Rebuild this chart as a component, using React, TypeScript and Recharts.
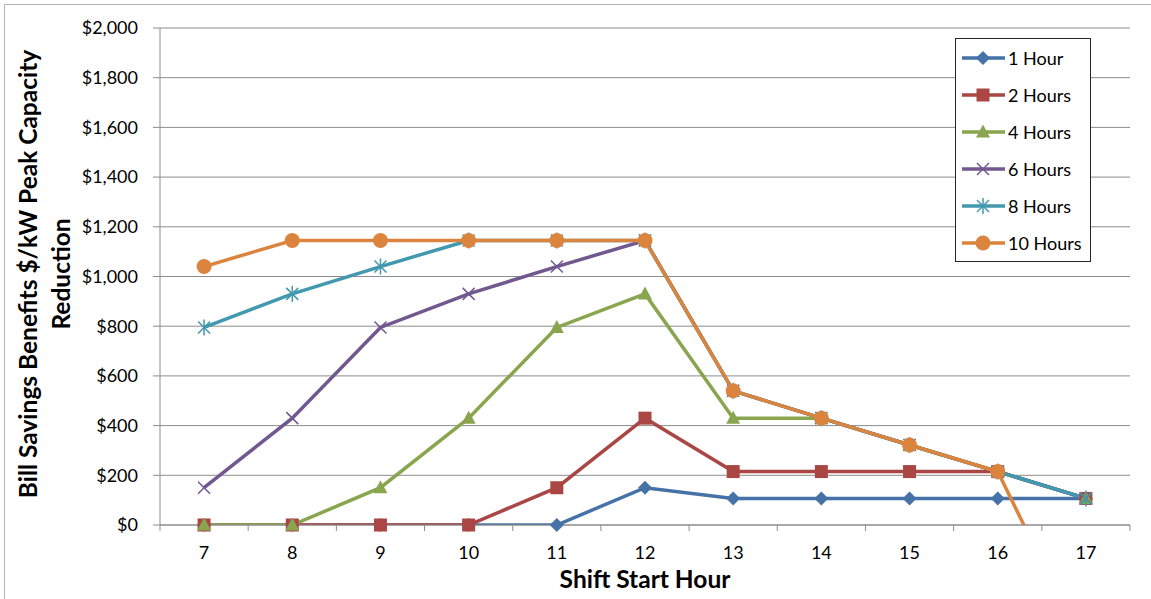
import React from 'react';
import { LineChart, Line, XAxis, YAxis, CartesianGrid, Legend } from 'recharts';

const hours = [7, 8, 9, 10, 11, 12, 13, 14, 15, 16, 17];
const oneHour = [0, 0, 0, 0, 0, 150, 107, 107, 107, 107, 107];
const twoHours = [0, 0, 0, 0, 150, 430, 215, 215, 215, 215, 107];
const fourHours = [0, 0, 150, 430, 795, 930, 430, 430, 322, 215, 107];
const sixHours = [150, 430, 795, 930, 1040, 1145, 540, 430, 322, 215, 107];
const eightHours = [795, 930, 1040, 1145, 1145, 1145, 540, 430, 322, 215, 107];
const tenHours = [1040, 1145, 1145, 1145, 1145, 1145, 540, 430, 322, 215, -510];
const yTicks = [0, 200, 400, 600, 800, 1000, 1200, 1400, 1600, 1800, 2000];

// x ticks: boundaries (half hours) carry the tick marks, whole hours carry the labels
const xTicks = [hours[0] - 0.5, ...hours.flatMap((h) => [h, h + 0.5])];

const series = [
  { key: 'h1', name: '1 Hour', values: oneHour, color: '#4572A7', marker: 'diamond' },
  { key: 'h2', name: '2 Hours', values: twoHours, color: '#AA4643', marker: 'square' },
  { key: 'h4', name: '4 Hours', values: fourHours, color: '#89A54E', marker: 'triangle' },
  { key: 'h6', name: '6 Hours', values: sixHours, color: '#71588F', marker: 'x' },
  { key: 'h8', name: '8 Hours', values: eightHours, color: '#4198AF', marker: 'star' },
  { key: 'h10', name: '10 Hours', values: tenHours, color: '#DB843D', marker: 'circle' },
];

const data = hours.map((hour, i) => {
  const row: Record<string, number> = { hour };
  series.forEach((s) => (row[s.key] = s.values[i]));
  return row;
});

const FONT = 'Lato, "Open Sans", sans-serif';
const GRID = '#8c8c8c';

function Marker({ cx, cy, type, color }: { cx: number; cy: number; type: string; color: string }) {
  switch (type) {
    case 'diamond':
      return <polygon points={`${cx},${cy - 7} ${cx + 7},${cy} ${cx},${cy + 7} ${cx - 7},${cy}`} fill={color} />;
    case 'square':
      return <rect x={cx - 6.5} y={cy - 6.5} width={13} height={13} fill={color} />;
    case 'triangle':
      return <polygon points={`${cx},${cy - 7.5} ${cx + 7},${cy + 5.5} ${cx - 7},${cy + 5.5}`} fill={color} />;
    case 'x':
      return (
        <g stroke={color} strokeWidth={1.5}>
          <line x1={cx - 6} y1={cy - 6} x2={cx + 6} y2={cy + 6} />
          <line x1={cx - 6} y1={cy + 6} x2={cx + 6} y2={cy - 6} />
        </g>
      );
    case 'star':
      return (
        <g stroke={color} strokeWidth={1.5}>
          <line x1={cx - 6} y1={cy - 6} x2={cx + 6} y2={cy + 6} />
          <line x1={cx - 6} y1={cy + 6} x2={cx + 6} y2={cy - 6} />
          <line x1={cx} y1={cy - 8} x2={cx} y2={cy + 8} />
        </g>
      );
    default:
      return <circle cx={cx} cy={cy} r={7.5} fill={color} />;
  }
}

const XTick = (props: any) => {
  const { x, y, payload } = props;
  if (payload.value % 1 !== 0) {
    return <line x1={x} y1={y} x2={x} y2={y + 6} stroke={GRID} strokeWidth={1} />;
  }
  return (
    <text x={x} y={y + 34} textAnchor="middle" fontSize={18} fontFamily={FONT} fill="#000">
      {payload.value}
    </text>
  );
};

const LegendBox = () => (
  <div
    style={{
      width: 134,
      height: 222,
      border: '1px solid #262626',
      background: '#fff',
      boxSizing: 'content-box',
      fontFamily: FONT,
      fontSize: 18,
    }}
  >
    {series.map((s) => (
      <div key={s.key} style={{ display: 'flex', alignItems: 'center', height: 37 }}>
        <svg width={52} height={20} style={{ flexShrink: 0 }}>
          <line x1={6} y1={10} x2={49} y2={10} stroke={s.color} strokeWidth={3.5} />
          <Marker cx={27} cy={10} type={s.marker} color={s.color} />
        </svg>
        <span style={{ color: '#000', lineHeight: '20px' }}>{s.name}</span>
      </div>
    ))}
  </div>
);

export default function App() {
  return (
    <div style={{ position: 'relative', width: 1151, height: 599, background: '#fff', overflow: 'hidden' }}>
      <style>{'body{margin:0}'}</style>
      <div
        style={{
          position: 'absolute',
          left: 4,
          top: 4,
          right: 0,
          bottom: 0,
          borderLeft: '1px solid #b4b4b4',
          borderTop: '1px solid #b4b4b4',
        }}
      />
      <LineChart
        width={1151}
        height={599}
        data={data}
        margin={{ top: 28, right: 21, bottom: 14, left: 60 }}
        style={{ position: 'absolute', left: 0, top: 0 }}
      >
        <CartesianGrid yAxisId="v" horizontal vertical={false} stroke={GRID} strokeWidth={1} />
        <XAxis
          dataKey="hour"
          type="number"
          domain={[xTicks[0], xTicks[xTicks.length - 1]]}
          ticks={xTicks}
          interval={0}
          tick={<XTick />}
          tickLine={false}
          tickSize={0}
          tickMargin={0}
          height={60}
          axisLine={{ stroke: GRID, strokeWidth: 1 }}
          label={{
            content: () => (
              <text x={645} y={588} textAnchor="middle" fontFamily={FONT} fontSize={24.5} fontWeight={700} fill="#000">
                Shift Start Hour
              </text>
            ),
          }}
        />
        <YAxis
          yAxisId="v"
          width={100}
          domain={[0, 2000]}
          ticks={yTicks}
          interval={0}
          allowDataOverflow
          tickFormatter={(v: number) => `$${v.toLocaleString('en-US')}`}
          tick={{ fontSize: 18, fontFamily: FONT, fill: '#000' }}
          tickSize={7}
          tickMargin={15}
          tickLine={{ stroke: GRID }}
          axisLine={{ stroke: GRID, strokeWidth: 1 }}
          label={{
            content: () => (
              <text
                transform="translate(37, 274) rotate(-90)"
                textAnchor="middle"
                fontFamily={FONT}
                fontSize={24.5}
                fontWeight={700}
                fill="#000"
              >
                <tspan x={0} dy={0}>Bill Savings Benefits $/kW Peak Capacity</tspan>
                <tspan x={0} dy={33}>Reduction</tspan>
              </text>
            ),
          }}
        />
        <YAxis yAxisId="m" hide orientation="right" width={0} domain={[0, 2000]} />
        {series.flatMap((s) => [
          <Line
            key={s.key}
            yAxisId="v"
            dataKey={s.key}
            stroke={s.color}
            strokeWidth={3.5}
            dot={false}
            activeDot={false}
            legendType="none"
            isAnimationActive={false}
          />,
          <Line
            key={s.key + '-m'}
            yAxisId="m"
            dataKey={(d: any) => (d[s.key] >= 0 ? d[s.key] : null)}
            stroke="none"
            dot={(p: any) =>
              p.cx == null || p.cy == null || p.value == null ? (
                <g key={`${s.key}-${p.index}`} />
              ) : (
                <Marker key={`${s.key}-${p.index}`} cx={p.cx} cy={p.cy} type={s.marker} color={s.color} />
              )
            }
            activeDot={false}
            legendType="none"
            isAnimationActive={false}
          />,
        ])}
        <Legend
          layout="vertical"
          align="center"
          verticalAlign="middle"
          wrapperStyle={{ position: 'absolute', left: 955, top: 38, width: 'auto' }}
          content={() => <LegendBox />}
        />
      </LineChart>
    </div>
  );
}
